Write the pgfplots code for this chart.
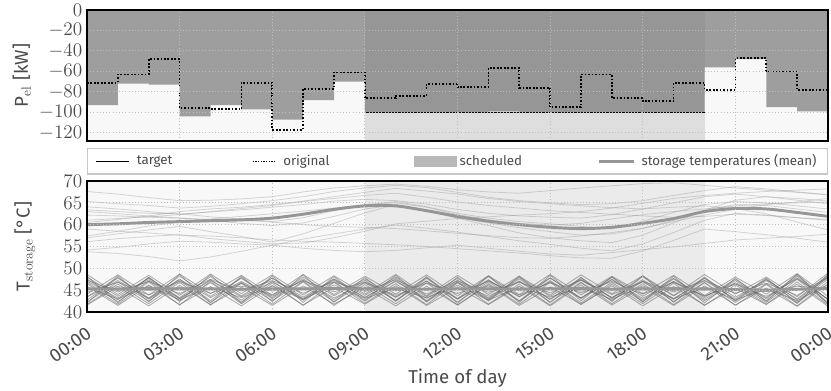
\documentclass[border=0pt]{standalone}
\usepackage[no-math]{fontspec}
\setmainfont{Fira Sans}
\usepackage{pgfplots}
\usepackage{pgfplotstable}
\pgfplotsset{compat=1.18}

\definecolor{bgcol}{HTML}{F8F8F8}
\definecolor{txt}{HTML}{4A4A4A}
\definecolor{gridc}{HTML}{BEBEBE}
\definecolor{legc}{HTML}{C8C8C8}
\definecolor{meanc}{HTML}{969696}
\definecolor{hlc}{HTML}{797979}

% electrical power per hour (value holds until next hour)
\pgfplotstableread{
h  orig  sched
0  -71   -93
1  -63   -72
2  -48   -73
3  -96   -104
4  -97   -93
5  -71   -97
6  -117  -107
7  -77   -88
8  -61   -70
9  -86   -100
10 -84   -100
11 -72   -100
12 -75   -100
13 -57   -99
14 -76   -100
15 -95   -100
16 -63   -100
17 -86   -100
18 -89   -100
19 -71   -100
20 -78   -56
21 -47   -48
22 -60   -95
23 -78   -99
24 -78   -99
}\power

% storage temperatures, one row per storage, one column per hour
\pgfplotstableread{
id 0 1 2 3 4 5 6 7 8 9 10 11 12 13 14 15 16 17 18 19 20 21 22 23 24
u1 67.6 67.0 66.2 65.5 65.6 65.9 66.4 67.5 68.4 68.9 69.3 68.8 68.0 67.5 67.2 67.8 68.4 68.9 69.4 69.6 69.0 68.4 67.9 67.4 66.8
u2 65.3 64.8 64.4 63.8 64.2 64.8 65.5 66.4 67.6 68.4 69.0 68.5 67.4 66.3 65.5 65.0 64.6 64.8 65.5 66.7 67.8 68.7 68.2 67.5 66.9
u3 64.1 63.6 63.0 62.4 62.9 63.4 64.0 64.6 65.4 65.8 65.5 64.7 63.5 62.6 62.0 61.7 61.5 62.3 63.6 65.0 66.4 67.0 66.4 65.6 64.8
u4 63.4 63.0 62.6 62.5 61.8 61.3 60.7 61.6 63.2 64.5 65.3 64.1 62.6 61.5 60.7 60.2 59.6 59.0 60.8 62.8 64.6 65.3 65.0 64.3 63.6
u5 62.2 62.0 61.7 61.5 61.0 60.3 59.8 60.4 61.9 63.6 64.5 63.3 61.6 60.4 59.3 58.4 57.6 57.9 59.1 61.0 63.3 64.6 64.4 63.6 62.8
u6 57.4 58.5 59.7 60.6 61.3 61.9 62.5 63.1 63.8 64.6 65.0 64.0 62.3 61.1 60.3 59.9 60.3 61.3 62.3 63.0 63.6 64.3 64.8 65.0 65.2
u7 57.0 57.9 58.8 59.6 58.4 57.3 56.0 57.9 60.3 62.7 64.6 63.1 61.5 59.8 58.1 57.0 56.3 55.9 57.6 60.4 63.3 65.6 66.4 66.0 65.4
u8 56.1 56.8 57.3 57.7 56.8 56.2 55.6 55.8 57.0 58.5 60.2 60.8 61.4 61.8 62.2 62.5 63.0 63.8 64.9 66.0 66.7 67.2 67.6 67.9 68.2
u9 53.8 53.4 52.7 51.7 52.6 53.9 55.3 56.7 57.9 59.0 59.9 59.2 58.3 57.3 56.3 55.5 54.6 54.0 55.6 58.2 61.0 62.6 62.2 61.6 61.0
u10 54.2 54.8 55.6 56.2 56.0 55.6 55.3 54.6 54.1 53.8 54.1 54.7 55.3 54.6 53.9 53.3 53.0 53.6 54.3 54.9 55.7 56.5 56.9 57.3 57.8
u11 61.0 61.4 61.8 62.3 63.0 63.7 64.4 65.3 66.0 66.7 67.2 66.3 65.2 64.4 63.8 63.2 62.8 62.4 62.0 61.7 61.9 62.4 62.1 61.6 61.2
u12 59.0 58.5 58.1 57.6 57.4 57.0 56.5 56.2 56.0 55.7 55.4 55.0 54.5 54.0 53.5 52.9 52.4 52.3 54.0 56.4 59.0 58.4 57.7 56.9 56.0
u13 60.5 61.2 62.0 63.0 63.6 64.0 64.6 65.4 66.4 67.4 68.3 67.7 67.0 66.0 65.3 64.8 64.3 63.9 63.6 64.0 64.3 63.7 62.5 60.6 58.8
u14 63.0 62.5 62.0 61.5 61.2 61.0 60.6 60.0 59.6 59.4 59.1 58.6 58.0 57.5 57.0 56.9 57.4 58.2 59.2 60.7 62.2 63.5 64.6 65.2 66.0
l1 48.2 42.1 48.0 42.4 48.5 42.0 48.3 42.2 48.1 42.6 48.4 42.3 48.0 42.5 48.2 42.1 47.9 42.4 48.3 42.2 48.0 42.6 47.8 42.0 48.6
l2 42.0 48.3 42.3 48.6 42.1 48.2 42.4 48.5 42.2 47.9 42.5 48.1 42.0 48.3 42.2 48.4 42.6 48.0 42.3 48.2 42.1 47.7 42.4 48.7 41.8
l3 47.1 43.2 47.4 43.0 47.2 43.5 46.9 43.1 47.3 43.4 47.0 43.2 46.8 43.6 47.1 43.0 47.3 43.3 46.9 43.1 47.2 43.0 47.5 42.8 47.9
l4 43.4 47.2 43.1 47.5 43.3 47.0 43.6 47.3 43.2 46.8 43.4 47.1 43.0 47.2 43.5 46.9 43.2 47.4 43.1 47.0 43.6 46.7 43.3 47.8 42.9
l5 46.5 41.8 46.9 41.6 47.0 41.9 46.6 41.5 46.8 42.0 46.5 41.7 46.9 41.8 46.4 41.6 46.7 41.9 46.5 41.7 46.8 41.5 46.3 41.4 47.0
l6 41.7 46.4 41.9 46.8 41.6 46.6 41.8 46.9 41.5 46.3 41.9 46.7 41.6 46.5 41.8 46.8 41.7 46.4 41.9 46.6 41.5 46.2 41.8 46.9 41.6
l7 48.6 44.0 48.4 43.8 48.7 44.2 48.5 43.9 48.3 44.1 48.6 43.7 48.4 44.0 48.2 43.9 48.5 44.2 48.3 43.8 48.6 44.1 48.0 43.5 48.9
l8 44.1 48.5 43.9 48.7 44.2 48.4 43.8 48.6 44.0 48.2 44.1 48.5 43.7 48.3 44.0 48.6 43.9 48.2 44.2 48.4 43.8 48.0 44.1 48.8 43.6
l9 45.2 45.8 44.9 45.6 45.1 45.9 44.8 45.5 45.3 45.7 44.9 45.4 45.2 45.8 45.0 45.6 44.8 45.3 45.1 45.7 45.0 45.4 44.7 45.9 45.3
l10 47.6 42.8 47.9 43.1 47.4 42.7 47.8 42.9 47.5 43.2 47.7 42.6 47.3 43.0 47.6 42.8 47.9 43.1 47.4 42.9 47.7 42.5 47.2 42.3 48.1
l11 42.7 47.8 42.9 47.5 42.6 47.9 43.0 47.6 42.8 47.3 42.5 47.7 42.9 47.4 42.6 47.8 43.1 47.5 42.7 47.6 42.9 47.2 42.6 48.2 42.2
l12 45.9 41.5 46.2 41.7 45.8 41.4 46.1 41.6 45.7 41.8 46.0 41.5 45.6 41.7 45.9 41.4 46.2 41.6 45.8 41.5 46.0 41.6 45.5 41.3 46.4
l13 41.6 45.8 41.4 46.1 41.7 45.7 41.5 46.0 41.8 45.6 41.4 45.9 41.6 46.2 41.5 45.7 41.8 46.0 41.4 45.8 41.6 45.5 41.7 46.4 41.3
l14 48.0 43.6 47.7 43.3 48.1 43.7 47.8 43.4 47.6 43.8 48.0 43.5 47.7 43.2 47.9 43.6 47.5 43.3 48.1 43.7 47.8 43.4 47.4 43.0 48.4
l15 43.5 47.9 43.2 48.2 43.6 47.7 43.3 48.0 43.7 47.6 43.4 47.9 43.1 48.1 43.5 47.8 43.2 48.0 43.6 47.7 43.3 47.5 43.0 48.5 42.8
l16 46.8 42.4 47.1 42.6 46.7 42.3 47.0 42.7 46.9 42.5 47.2 42.4 46.6 42.8 47.0 42.3 46.8 42.6 47.1 42.4 46.7 42.2 46.5 42.0 47.6
l17 42.3 46.9 42.5 47.2 42.2 46.8 42.6 47.0 42.4 46.7 42.7 47.1 42.3 46.9 42.5 47.2 42.1 46.8 42.4 47.0 42.6 46.6 42.2 47.5 42.0
l18 44.5 46.8 43.9 47.0 44.3 46.5 44.0 47.2 44.6 46.9 43.8 46.6 44.2 47.1 43.9 46.7 44.4 47.0 44.1 46.8 43.7 46.4 43.6 47.6 43.0
l19 47.3 44.6 47.0 44.2 47.5 44.8 47.2 44.3 46.9 44.7 47.4 44.1 47.1 44.5 46.8 44.4 47.3 44.0 47.0 44.6 47.2 44.3 46.6 43.8 48.0
l20 45.6 43.0 46.0 42.8 45.7 43.3 45.9 42.9 46.2 43.1 45.5 43.2 46.1 42.7 45.8 43.4 45.6 42.9 46.0 43.0 45.7 42.8 45.3 42.6 46.3
mu 60.0 60.2 60.5 60.7 60.9 61.1 61.5 62.4 63.5 64.3 64.3 63.2 61.9 60.8 60.0 59.4 59.1 59.4 60.3 61.4 63.0 63.7 63.6 62.8 61.9
ml 45.3 45.2 45.4 45.3 45.3 45.2 45.3 45.3 45.4 45.2 45.3 45.2 45.3 45.3 45.2 45.3 45.4 45.2 45.3 45.2 45.3 45.1 45.0 45.2 45.4
}\tempsraw
\pgfplotstabletranspose[colnames from=id]{\temps}{\tempsraw}

\pgfplotsset{
  panel/.style={
    scale only axis, width=555.75pt, height=98.25pt,
    xmin=0, xmax=24, xtick={0,3,...,24},
    grid=major, grid style={dotted, gridc, line width=0.7pt},
    axis line style={black, line width=1.3pt},
    major tick length=0pt,
    axis background/.style={fill=bgcol},
    axis on top,
    tick label style={font=\fontsize{14}{16}\selectfont, text=txt},
    label style={font=\fontsize{14}{16}\selectfont, text=txt},
  },
  thinup/.style={color=black!45, opacity=0.35, line width=0.6pt, forget plot},
  thinlo/.style={color=black!60, opacity=0.55, line width=0.6pt, forget plot},
}

\begin{document}
\begin{tikzpicture}
\begin{axis}[panel, name=top, at={(0,0)}, anchor=north west,
    ymin=-128, ymax=0, ytick={-120,-100,...,0},
    xticklabels={},
    ylabel={P$_{\mathrm{el}}$ [kW]},
    ylabel style={at={(axis description cs:-0.088,0.5)}, anchor=center},
    legend columns=4,
    legend style={at={(0.5,0)}, anchor=north, yshift=-5.25pt,
        draw=legc, line width=1pt, fill=white,
        inner xsep=6pt, inner ysep=4.5pt, column sep=0pt,
        font=\fontsize{10}{12}\selectfont, text=txt,
        nodes={inner sep=0pt}},
    legend cell align=left,
]
\addplot[const plot, draw=none, fill=black, fill opacity=0.36, forget plot]
  table[x=h, y=sched] {\power} \closedcycle;
\addplot[draw=none, fill=hlc, fill opacity=0.2, forget plot]
  coordinates {(9,-200) (9,50) (20,50) (20,-200)} -- cycle;
\addplot[black, line width=1pt, forget plot] coordinates {(9,-100) (20,-100)};
\addplot[const plot, black, line width=1.3pt, dash pattern=on 1.3pt off 1.3pt, forget plot]
  table[x=h, y=orig] {\power};

\addlegendimage{legend image code/.code={\draw[black, line width=1pt] (0pt,0pt) -- (24.75pt,0pt);}}
\addlegendentry{\hspace{5.25pt}\makebox[86.25pt][l]{target}}
\addlegendimage{legend image code/.code={\draw[black, line width=1.1pt, dash pattern=on 1pt off 1pt] (0pt,0pt) -- (17.25pt,0pt);}}
\addlegendentry{\hspace{5.25pt}\makebox[98.25pt][l]{original}}
\addlegendimage{legend image code/.code={\fill[black!28] (0pt,-3.4pt) rectangle (30.75pt,3.4pt);}}
\addlegendentry{\hspace{2.25pt}\makebox[103.5pt][l]{scheduled}}
\addlegendimage{legend image code/.code={\draw[meanc, line width=2.2pt] (0pt,0pt) -- (26.25pt,0pt);}}
\addlegendentry{\hspace{4.5pt}\makebox[133.5pt][l]{storage temperatures (mean)}}
\end{axis}

\begin{axis}[panel, at={(0,-128.25pt)}, anchor=north west,
    ymin=40, ymax=70, ytick={40,45,...,70},
    xticklabels={00:00,03:00,06:00,09:00,12:00,15:00,18:00,21:00,00:00},
    x tick label style={rotate=35, anchor=north east, inner sep=1pt, xshift=-6pt, yshift=-7pt},
    ylabel={T$_{\mathrm{storage}}$ [°C]},
    ylabel style={at={(axis description cs:-0.084,0.5)}, anchor=center},
    xlabel={Time of day},
    xlabel style={at={(axis description cs:0.5,0)}, anchor=center, yshift=-50pt},
]
\addplot[draw=none, fill=black, fill opacity=0.05, forget plot]
  coordinates {(9,0) (9,100) (20,100) (20,0)} -- cycle;
\pgfplotsinvokeforeach{u1,u2,u3,u4,u5,u6,u7,u8,u9,u10,u11,u12,u13,u14}{
  \addplot[thinup] table[x=colnames, y=#1] {\temps};
}
\pgfplotsinvokeforeach{l1,l2,l3,l4,l5,l6,l7,l8,l9,l10,l11,l12,l13,l14,l15,l16,l17,l18,l19,l20}{
  \addplot[thinlo] table[x=colnames, y=#1] {\temps};
}
\addplot[meanc, line width=2.2pt, smooth, forget plot] table[x=colnames, y=mu] {\temps};
\addplot[meanc, line width=2.2pt, forget plot] table[x=colnames, y=ml] {\temps};
\end{axis}

\pgfresetboundingbox
\useasboundingbox (-65.25pt,7.5pt) rectangle (558pt,-285pt);
\end{tikzpicture}
\end{document}
